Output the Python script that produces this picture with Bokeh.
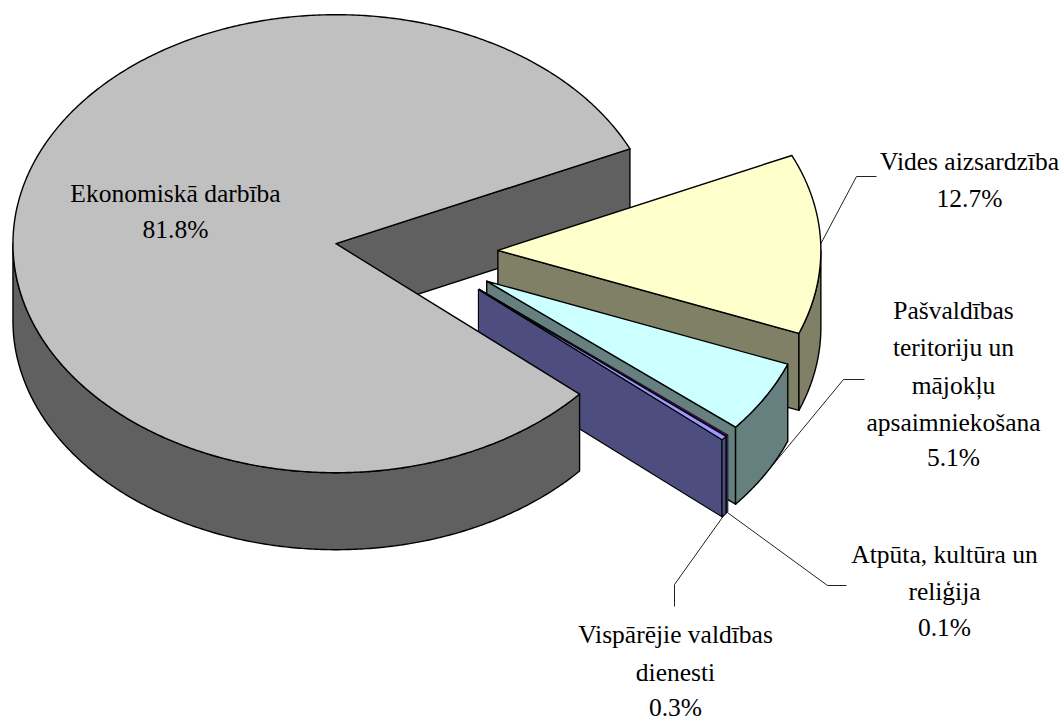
import numpy as np
from bokeh.embed import file_html
from bokeh.plotting import figure
from bokeh.resources import INLINE
from bokeh.core.properties import value

# ---- data ----
categories = ["Ekonomiskā darbība", "Vides aizsardzība",
              "Pašvaldības teritoriju un mājokļu apsaimniekošana",
              "Atpūta, kultūra un reliģija", "Vispārējie valdības dienesti"]
shares = [81.8, 12.7, 5.1, 0.1, 0.3]
top_colors = ["#C0C0C0", "#FFFFCC", "#CCFFFF", "#660066", "#9999FF"]
side_colors = ["#606060", "#808066", "#668080", "#4D4D80", "#4D4D80"]
label_lines = [["Ekonomiskā darbība", "81.8%"],
               ["Vides aizsardzība", "12.7%"],
               ["Pašvaldības", "teritoriju un", "mājokļu", "apsaimniekošana", "5.1%"],
               ["Atpūta, kultūra un", "reliģija", "0.1%"],
               ["Vispārējie valdības", "dienesti", "0.3%"]]

# ---- layout of the projected pie (page pixels) ----
W, H = 1060, 718
CX, CY, RX, RY = 416.0, 251.5, 323.0, 229.0
DEPTH = 77.0
EXPLODE = 0.252
START_DEG = 41.04   # clockwise on screen, measured on the ellipse from east
LINE_WIDTHS = [1.4, 1.4, 1.4, 0.7, 1.1]

p = figure(width=W, height=H, x_range=(0, W), y_range=(H, 0),
           output_backend="svg", toolbar_location=None, min_border=0,
           outline_line_color=None, background_fill_color="white")
p.xaxis.visible = False
p.yaxis.visible = False
p.grid.visible = False

# angular extents from the values
spans = np.array(shares) / sum(shares) * 360.0
starts = START_DEG + np.concatenate([[0], np.cumsum(spans)[:-1]])
ends = starts + spans
apex = []
for a0, a1 in zip(starts, ends):
    m = np.radians((a0 + a1) / 2)
    apex.append((CX + EXPLODE * RX * np.cos(m), CY + EXPLODE * RY * np.sin(m)))


def rim(i, deg):
    t = np.radians(deg)
    return apex[i][0] + RX * np.cos(t), apex[i][1] + RY * np.sin(t)


def top_face(i):
    ts = np.linspace(starts[i], ends[i], max(3, int(spans[i] * 2) + 2))
    xs, ys = rim(i, ts)
    return [apex[i][0], *xs], [apex[i][1], *ys]


def radial_face(i, deg):
    x, y = rim(i, deg)
    ax, ay = apex[i]
    return [ax, x, x, ax], [ay, y, y + DEPTH, ay + DEPTH]


def wall(i):
    # part of the outer wall on the front half of the ellipse
    segs = []
    for k in (-1, 0, 1):
        lo = max(starts[i], 0 + 360 * k)
        hi = min(ends[i], 180 + 360 * k)
        if hi > lo:
            segs.append((lo, hi))
    out = []
    for lo, hi in segs:
        ts = np.linspace(lo, hi, max(3, int((hi - lo) * 2) + 2))
        xs, ys = rim(i, ts)
        out.append(([*xs, *xs[::-1]], [*ys, *(ys[::-1] + DEPTH)]))
    return out


def draw(i, xs, ys, fill):
    p.patch(xs, ys, fill_color=fill, line_color="black",
            line_width=LINE_WIDTHS[i], line_join="round")


def leader(i, elbow, end, anchor_deg=None, on_bottom=True):
    m = (starts[i] + ends[i]) / 2 if anchor_deg is None else anchor_deg
    x, y = rim(i, m)
    y = y + DEPTH if on_bottom else y
    p.line([x, elbow[0], end[0]], [y, elbow[1], end[1]],
           line_color="#222222", line_width=1)


# leader lines lie beneath the pie
leader(1, (856, 176), (876, 176), on_bottom=False)
leader(2, (843, 379), (864, 379))
leader(3, (827, 585), (846, 585))
leader(4, (674, 584), (674, 606))

# back radial face of the large slice, then the exploded slices, then its front
draw(0, *radial_face(0, ends[0]), side_colors[0])
for i in (1, 2, 3, 4):
    draw(i, *radial_face(i, ends[i]), side_colors[i])
    for w in wall(i):
        draw(i, *w, side_colors[i])
    draw(i, *top_face(i), top_colors[i])
for w in wall(0):
    draw(0, *w, side_colors[0])
draw(0, *top_face(0), top_colors[0])

# labels: centre x, then the y of each line's middle
label_centres = [(175, [193, 229]),
                 (969, [161, 198]),
                 (953, [310, 347, 385, 422, 457]),
                 (944, [554, 591, 627]),
                 (675, [634, 672, 707])]
for lines, (lx, lys) in zip(label_lines, label_centres):
    p.text([lx] * len(lines), lys, text=lines, text_align="center",
           text_baseline="middle", text_color="black",
           text_font=value("Liberation Serif"), text_font_size="25.5px")

open("out.html", "w").write(file_html(p, INLINE))
